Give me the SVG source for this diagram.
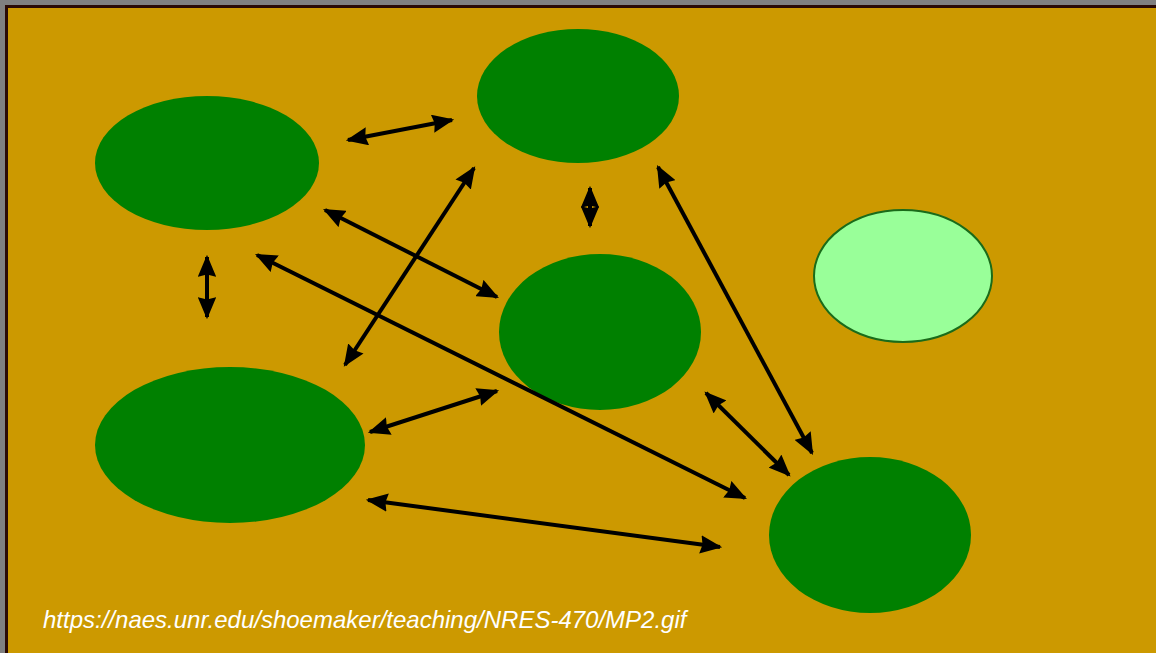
<svg xmlns="http://www.w3.org/2000/svg" width="1156" height="653" viewBox="0 0 1156 653">
<style>
.node{fill:#008000}
.light{fill:#99FF99;stroke:#1a6b1a;stroke-width:2}
.conn line{stroke:#000;stroke-width:4;marker-start:url(#ah);marker-end:url(#ah)}
.cap{font-family:"Liberation Sans",Arial,sans-serif;font-style:italic;font-size:24px;fill:#fff}
</style>
<defs>
<marker id="ah" viewBox="0 0 10 10" refX="9" refY="5" markerWidth="5.5" markerHeight="4.6" orient="auto-start-reverse" markerUnits="strokeWidth" preserveAspectRatio="none">
<path d="M0,0 L10,5 L0,10 L1,5 Z" fill="#000"/>
</marker>
</defs>
<rect x="0" y="0" width="1156" height="653" fill="#808080"/>
<rect x="5" y="5" width="1151" height="648" fill="#2a0a05"/>
<rect x="8" y="8" width="1148" height="645" fill="#CC9900"/>
<g id="n1"><ellipse class="node" cx="207" cy="163" rx="112" ry="67"/></g>
<g id="n2"><ellipse class="node" cx="578" cy="96" rx="101" ry="67"/></g>
<g id="n3"><ellipse class="node" cx="600" cy="332" rx="101" ry="78"/></g>
<g id="n4"><ellipse class="node" cx="230" cy="445" rx="135" ry="78"/></g>
<g id="n5"><ellipse class="node" cx="870" cy="535" rx="101" ry="78"/></g>
<g id="n6"><ellipse class="light" cx="903" cy="276" rx="89" ry="66"/></g>
<g id="connectors" class="conn">
<line x1="348" y1="140" x2="452" y2="120"/>
<line x1="207" y1="257" x2="207" y2="317"/>
<line x1="590" y1="188" x2="590" y2="226"/>
<line x1="325" y1="210" x2="497" y2="297"/>
<line x1="257" y1="255" x2="745" y2="498"/>
<line x1="474" y1="168" x2="345" y2="365"/>
<line x1="658" y1="167" x2="812" y2="453"/>
<line x1="370" y1="432" x2="497" y2="391"/>
<line x1="706" y1="393" x2="789" y2="475"/>
<line x1="368" y1="500" x2="720" y2="547"/>
</g>
<text class="cap" x="43" y="628">https://naes.unr.edu/shoemaker/teaching/NRES-470/MP2.gif</text>
</svg>
